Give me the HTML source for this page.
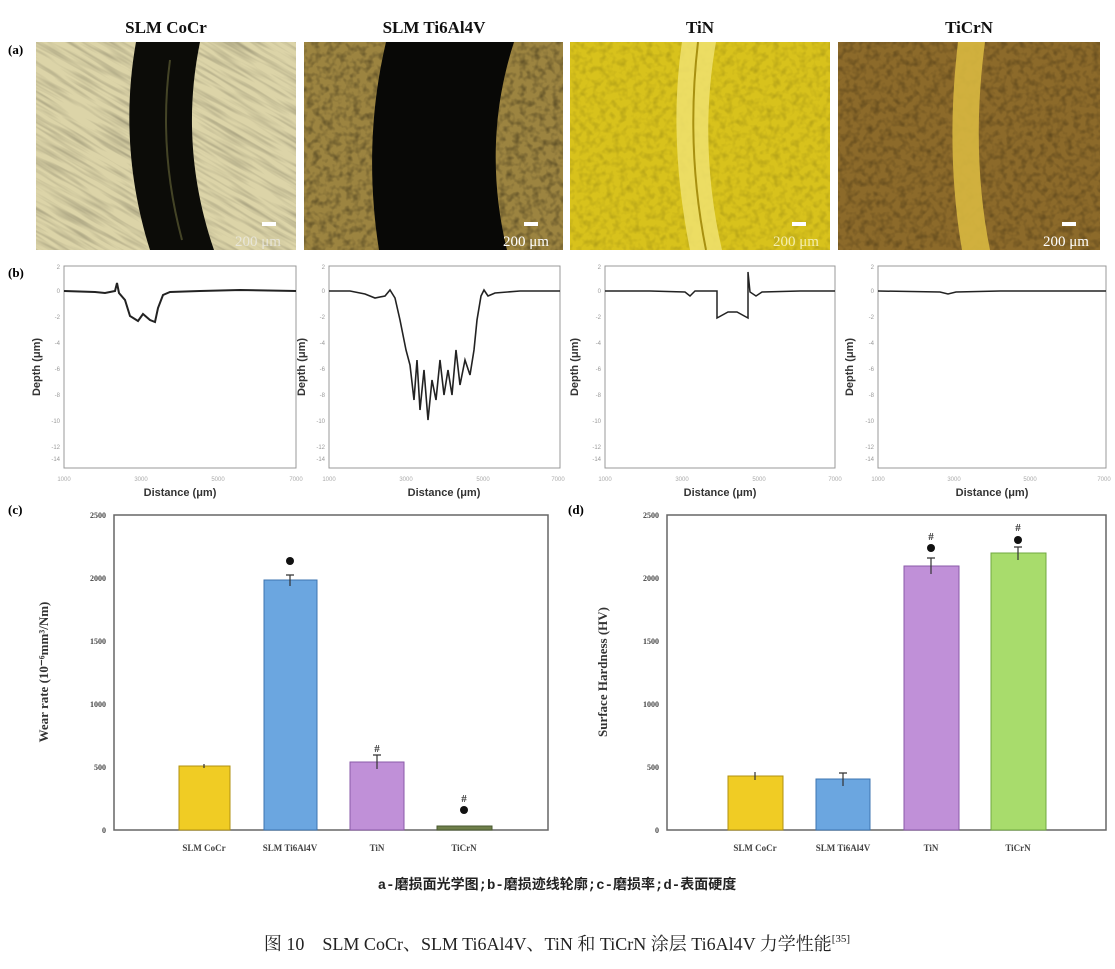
<!DOCTYPE html>
<html><head><meta charset="utf-8">
<style>
html,body{margin:0;padding:0;background:#fff;}
svg{display:block;}
.t{font-family:"Liberation Serif",serif;font-weight:bold;}
.cj{font-family:"Liberation Serif","Noto Serif CJK SC",serif;}
</style></head>
<body>
<svg width="1115" height="969" viewBox="0 0 1115 969" xmlns="http://www.w3.org/2000/svg">
<defs>
<filter id="n1" x="0" y="0" width="100%" height="100%">
<feTurbulence type="fractalNoise" baseFrequency="0.02 0.25" numOctaves="2" seed="3" result="t"/>
<feColorMatrix type="matrix" values="0 0 0 0 0  0 0 0 0 0  0 0 0 0 0  0 0 0 -1.2 0.7"/>
</filter>
<filter id="n2" x="0" y="0" width="100%" height="100%">
<feTurbulence type="fractalNoise" baseFrequency="0.15" numOctaves="2" seed="5"/>
<feColorMatrix type="matrix" values="0 0 0 0 0  0 0 0 0 0  0 0 0 0 0  0 0 0 -1.3 0.75"/>
</filter>
<clipPath id="c1"><rect x="36" y="42" width="260" height="208"/></clipPath>
<clipPath id="c2"><rect x="304" y="42" width="259" height="208"/></clipPath>
<clipPath id="c3"><rect x="570" y="42" width="260" height="208"/></clipPath>
<clipPath id="c4"><rect x="838" y="42" width="262" height="208"/></clipPath>
</defs>

<g class="t" font-size="17" text-anchor="middle" fill="#111">
<text x="166" y="33">SLM CoCr</text>
<text x="434" y="33">SLM Ti6Al4V</text>
<text x="700" y="33">TiN</text>
<text x="969" y="33">TiCrN</text>
</g>
<text x="8" y="54" class="t" font-size="13">(a)</text>

<g clip-path="url(#c1)">
<rect x="36" y="42" width="260" height="208" fill="#dcd4a8"/>
<g transform="rotate(30 166 146)"><rect x="-100" y="-100" width="520" height="500" filter="url(#n1)" opacity="0.4"/></g>
<path d="M136,42 L200,42 C186,110 190,180 214,250 L150,250 C128,180 124,110 136,42Z" fill="#0c0c08"/>
<path d="M170,60 C162,120 166,180 182,240" stroke="#6a6a3a" stroke-width="2" fill="none" opacity="0.6"/>
<rect x="262" y="222" width="14" height="4" fill="#fff"/>
<text x="258" y="246" class="cj" font-size="15" fill="#eee" text-anchor="middle" opacity="0.7">200 μm</text>
</g>
<g clip-path="url(#c2)">
<rect x="304" y="42" width="259" height="208" fill="#9c8440"/>
<rect x="304" y="42" width="259" height="208" filter="url(#n2)" opacity="0.6"/>
<path d="M386,42 L514,42 C492,110 490,180 507,250 L379,250 C368,180 370,110 386,42Z" fill="#080806"/>
<rect x="524" y="222" width="14" height="4" fill="#fff"/>
<text x="526" y="246" class="cj" font-size="15" fill="#fff" text-anchor="middle">200 μm</text>
</g>
<g clip-path="url(#c3)">
<rect x="570" y="42" width="260" height="208" fill="#d8c21c"/>
<rect x="570" y="42" width="260" height="208" filter="url(#n2)" opacity="0.25"/>
<path d="M682,42 L716,42 C704,110 706,180 722,250 L690,250 C676,180 672,110 682,42Z" fill="#f0e270" opacity="0.85"/>
<path d="M698,42 C690,110 692,180 706,250" stroke="#a89010" stroke-width="2" fill="none"/>
<rect x="792" y="222" width="14" height="4" fill="#fff"/>
<text x="796" y="246" class="cj" font-size="15" fill="#f4eeb0" text-anchor="middle">200 μm</text>
</g>
<g clip-path="url(#c4)">
<rect x="838" y="42" width="262" height="208" fill="#8c6a2a"/>
<rect x="838" y="42" width="262" height="208" filter="url(#n2)" opacity="0.45"/>
<path d="M958,42 L985,42 C976,110 976,180 990,250 L962,250 C950,180 950,110 958,42Z" fill="#d8b840" opacity="0.9"/>
<rect x="1062" y="222" width="14" height="4" fill="#fff"/>
<text x="1066" y="246" class="cj" font-size="15" fill="#fff" text-anchor="middle">200 μm</text>
</g>

<text x="8" y="277" class="t" font-size="13">(b)</text>
<g>
<rect x="64" y="266" width="232" height="202" fill="none" stroke="#999" stroke-width="1"/>
<rect x="329" y="266" width="231" height="202" fill="none" stroke="#999" stroke-width="1"/>
<rect x="605" y="266" width="230" height="202" fill="none" stroke="#999" stroke-width="1"/>
<rect x="878" y="266" width="228" height="202" fill="none" stroke="#999" stroke-width="1"/>
</g>
<g font-family="Liberation Sans" font-size="6" fill="#999" text-anchor="end">
<text x="60" y="269">2</text><text x="60" y="293">0</text><text x="60" y="319">-2</text><text x="60" y="345">-4</text><text x="60" y="371">-6</text><text x="60" y="397">-8</text><text x="60" y="423">-10</text><text x="60" y="449">-12</text><text x="60" y="461">-14</text>
<text x="325" y="269">2</text><text x="325" y="293">0</text><text x="325" y="319">-2</text><text x="325" y="345">-4</text><text x="325" y="371">-6</text><text x="325" y="397">-8</text><text x="325" y="423">-10</text><text x="325" y="449">-12</text><text x="325" y="461">-14</text>
<text x="601" y="269">2</text><text x="601" y="293">0</text><text x="601" y="319">-2</text><text x="601" y="345">-4</text><text x="601" y="371">-6</text><text x="601" y="397">-8</text><text x="601" y="423">-10</text><text x="601" y="449">-12</text><text x="601" y="461">-14</text>
<text x="874" y="269">2</text><text x="874" y="293">0</text><text x="874" y="319">-2</text><text x="874" y="345">-4</text><text x="874" y="371">-6</text><text x="874" y="397">-8</text><text x="874" y="423">-10</text><text x="874" y="449">-12</text><text x="874" y="461">-14</text>
</g>
<g font-family="Liberation Sans" font-weight="bold" font-size="11" fill="#333" text-anchor="middle">
<text x="180" y="496">Distance (μm)</text>
<text x="444" y="496">Distance (μm)</text>
<text x="720" y="496">Distance (μm)</text>
<text x="992" y="496">Distance (μm)</text>
<text transform="translate(40 367) rotate(-90)">Depth (μm)</text>
<text transform="translate(305 367) rotate(-90)">Depth (μm)</text>
<text transform="translate(578 367) rotate(-90)">Depth (μm)</text>
<text transform="translate(853 367) rotate(-90)">Depth (μm)</text>
</g>
<g font-family="Liberation Sans" font-size="6" fill="#aaa" text-anchor="middle">
<text x="64" y="481">1000</text><text x="141" y="481">3000</text><text x="218" y="481">5000</text><text x="296" y="481">7000</text>
<text x="329" y="481">1000</text><text x="406" y="481">3000</text><text x="483" y="481">5000</text><text x="558" y="481">7000</text>
<text x="605" y="481">1000</text><text x="682" y="481">3000</text><text x="759" y="481">5000</text><text x="835" y="481">7000</text>
<text x="878" y="481">1000</text><text x="954" y="481">3000</text><text x="1030" y="481">5000</text><text x="1104" y="481">7000</text>
</g>
<g fill="none" stroke="#222" stroke-width="2">
<path d="M64,291 L95,292 L105,293 L115,291 L117,283 L119,293 L125,300 L130,316 L138,321 L143,314 L150,320 L155,322 L158,308 L163,295 L170,292 L200,291 L240,290 L296,291"/>
<path d="M329,291 L350,291 L365,294 L375,298 L385,296 L390,290 L395,298 L400,320 L406,350 L410,365 L414,400 L417,360 L420,410 L424,370 L428,420 L432,380 L436,400 L440,360 L444,395 L448,370 L452,395 L456,350 L460,385 L465,360 L470,375 L474,350 L477,320 L481,296 L484,290 L488,296 L495,293 L520,291 L560,291" stroke-width="1.6"/>
<path d="M605,291 L650,291 L685,292 L690,296 L695,291 L717,291 L717,318 L728,312 L737,312 L748,318 L748,272 L750,292 L756,296 L762,292 L800,291 L835,291" stroke-width="1.5"/>
<path d="M878,291 L940,292 L948,294 L956,292 L1000,291 L1106,291" stroke-width="1.5"/>
</g>

<text x="8" y="514" class="t" font-size="13">(c)</text>
<rect x="114" y="515" width="434" height="315" fill="none" stroke="#666" stroke-width="1.5"/>
<g class="t" font-size="8" fill="#444" text-anchor="end">
<text x="106" y="518">2500</text><text x="106" y="581">2000</text><text x="106" y="644">1500</text><text x="106" y="707">1000</text><text x="106" y="770">500</text><text x="106" y="833">0</text>
</g>
<text transform="translate(48 672) rotate(-90)" class="t" font-size="13" text-anchor="middle" fill="#333">Wear rate (10⁻⁶mm³/Nm)</text>
<rect x="179" y="766" width="51" height="64" fill="#f0cc24" stroke="#b09010"/>
<rect x="264" y="580" width="53" height="250" fill="#6ba6e0" stroke="#3c74b0"/>
<rect x="350" y="762" width="54" height="68" fill="#c090d8" stroke="#8a5aa8"/>
<rect x="437" y="826" width="55" height="4" fill="#6f7f4a" stroke="#4a5a30"/>
<g stroke="#333" stroke-width="1.2">
<path d="M290,575 V586 M286,575 H294"/><path d="M377,755 V769 M373,755 H381"/><path d="M204,764 V768"/>
</g>
<circle cx="290" cy="561" r="4" fill="#111"/>
<text x="377" y="752" class="t" font-size="11" text-anchor="middle" fill="#333">#</text>
<text x="464" y="802" class="t" font-size="11" text-anchor="middle" fill="#333">#</text>
<circle cx="464" cy="810" r="4" fill="#111"/>
<g class="t" font-size="9" fill="#444" text-anchor="middle">
<text x="204" y="851">SLM CoCr</text><text x="290" y="851">SLM Ti6Al4V</text><text x="377" y="851">TiN</text><text x="464" y="851">TiCrN</text>
</g>

<text x="568" y="514" class="t" font-size="13">(d)</text>
<rect x="667" y="515" width="439" height="315" fill="none" stroke="#666" stroke-width="1.5"/>
<g class="t" font-size="8" fill="#444" text-anchor="end">
<text x="659" y="518">2500</text><text x="659" y="581">2000</text><text x="659" y="644">1500</text><text x="659" y="707">1000</text><text x="659" y="770">500</text><text x="659" y="833">0</text>
</g>
<text transform="translate(607 672) rotate(-90)" class="t" font-size="13" text-anchor="middle" fill="#333">Surface Hardness (HV)</text>
<rect x="728" y="776" width="55" height="54" fill="#f0cc24" stroke="#b09010"/>
<rect x="816" y="779" width="54" height="51" fill="#6ba6e0" stroke="#3c74b0"/>
<rect x="904" y="566" width="55" height="264" fill="#c090d8" stroke="#8a5aa8"/>
<rect x="991" y="553" width="55" height="277" fill="#a8dc6c" stroke="#70a840"/>
<g stroke="#333" stroke-width="1.2">
<path d="M755,772 V780"/><path d="M843,773 V786 M839,773 H847"/><path d="M931,558 V574 M927,558 H935"/><path d="M1018,547 V560 M1014,547 H1022"/>
</g>
<text x="931" y="540" class="t" font-size="11" text-anchor="middle" fill="#333">#</text>
<circle cx="931" cy="548" r="4" fill="#111"/>
<text x="1018" y="531" class="t" font-size="11" text-anchor="middle" fill="#333">#</text>
<circle cx="1018" cy="540" r="4" fill="#111"/>
<g class="t" font-size="9" fill="#444" text-anchor="middle">
<text x="755" y="851">SLM CoCr</text><text x="843" y="851">SLM Ti6Al4V</text><text x="931" y="851">TiN</text><text x="1018" y="851">TiCrN</text>
</g>

<text x="557" y="889" text-anchor="middle" font-family="Liberation Mono, 'Noto Sans CJK SC', monospace" font-weight="bold" font-size="14" fill="#222">a-磨损面光学图;b-磨损迹线轮廓;c-磨损率;d-表面硬度</text>
<text x="557" y="950" text-anchor="middle" class="cj" font-size="18" fill="#222">图 10　SLM CoCr、SLM Ti6Al4V、TiN 和 TiCrN 涂层 Ti6Al4V 力学性能<tspan font-size="11" dy="-8">[35]</tspan></text>
</svg>
</body></html>
